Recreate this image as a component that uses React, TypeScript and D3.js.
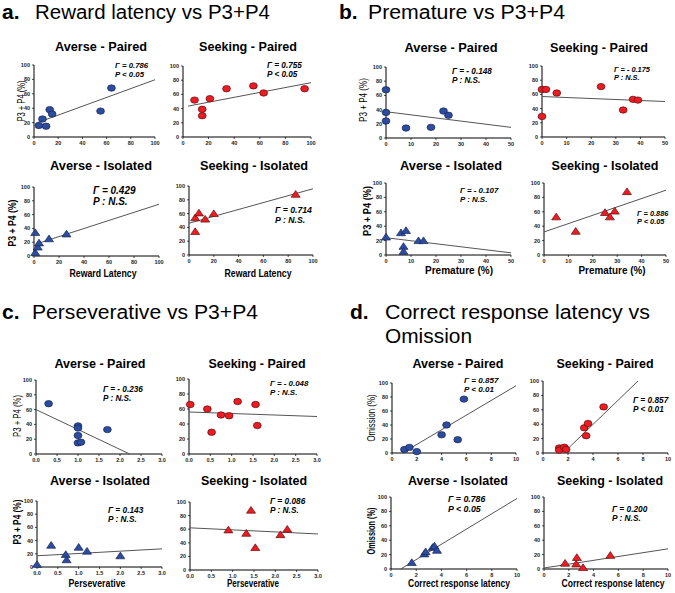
import React from "react";
import * as d3 from "d3";

// ---------- DATA ----------
// a. Reward latency vs P3+P4
const aAversePairedX = [4, 7, 10, 13, 15, 55, 64];
const aAversePairedY = [16, 25, 15, 38, 32, 36, 68];
const aAversePairedFit = [3, 20, 100, 79.5];
const aSeekingPairedX = [9, 15, 15, 21, 34, 55, 63, 95];
const aSeekingPairedY = [52, 39, 30, 54, 68, 72, 62, 68];
const aSeekingPairedFit = [4, 43.5, 100, 76.5];
const aAverseIsolatedX = [1, 1, 3, 4, 12, 26];
const aAverseIsolatedY = [34, 5, 13, 19, 25, 32];
const aAverseIsolatedFit = [2, 17.6, 100, 75];
const aSeekingIsolatedX = [5, 5, 8, 13, 20, 86];
const aSeekingIsolatedY = [34, 54, 61, 52, 60, 88];
const aSeekingIsolatedFit = [0, 46, 100, 96];

// b. Premature vs P3+P4
const bAversePairedX = [0, 0, 0, 8, 18, 23, 25];
const bAversePairedY = [68, 36, 24, 14, 15, 38, 32];
const bAversePairedFit = [0, 37, 50, 15];
const bSeekingPairedX = [0, 0, 1.6, 6, 24, 33, 37, 39];
const bSeekingPairedY = [67, 29, 67, 62, 71, 38, 53, 52];
const bSeekingPairedFit = [0, 57, 50, 50];
const bAverseIsolatedX = [0, 6, 8, 7, 7, 13, 15];
const bAverseIsolatedY = [25, 31, 34, 12, 5, 20, 20];
const bAverseIsolatedFit = [0, 24, 50, 3];
const bSeekingIsolatedX = [5, 13, 25, 27, 29, 34];
const bSeekingIsolatedY = [53, 33, 59, 53, 61, 88];
const bSeekingIsolatedFit = [0, 32, 50, 90];

// c. Perseverative vs P3+P4
const cAversePairedX = [0.3, 1.0, 1.0, 1.0, 1.0, 1.07, 1.7];
const cAversePairedY = [68, 38, 35, 25, 15, 16, 33];
const cAversePairedFit = [0, 60, 2.23, 0];
const cSeekingPairedX = [0.03, 0.43, 0.53, 0.75, 0.94, 1.14, 1.56, 1.6];
const cSeekingPairedY = [66, 60, 29, 52, 51, 70, 66, 38];
const cSeekingPairedFit = [0, 56, 3, 50];
const cAverseIsolatedX = [0, 0.34, 0.69, 0.71, 1.0, 1.2, 2.0];
const cAverseIsolatedY = [4, 33, 19, 11, 30, 24, 17];
const cAverseIsolatedFit = [0, 17, 3, 27.5];
const cSeekingIsolatedX = [0.9, 1.32, 1.43, 1.53, 2.12, 2.28];
const cSeekingIsolatedY = [59, 54, 88, 33, 52, 60];
const cSeekingIsolatedFit = [0, 62, 3, 53];

// d. Correct response latency vs Omission
const dAversePairedX = [1.0, 1.4, 2.0, 4.0, 4.4, 5.3, 5.8];
const dAversePairedY = [5, 8, 2, 26, 40, 19, 77];
const dAversePairedFit = [0.83, 0, 10, 96];
const dSeekingPairedX = [1.3, 1.3, 1.7, 1.85, 3.3, 3.6, 3.45, 4.85];
const dSeekingPairedY = [7, 4, 8, 5, 35, 41, 24, 64];
const dSeekingPairedFit = [1.63, 0, 7.6, 100];
const dAverseIsolatedX = [1.65, 2.65, 2.75, 3.3, 3.45, 3.65];
const dAverseIsolatedY = [9, 21, 24, 30, 32, 26];
const dAverseIsolatedFit = [0.77, 0, 10, 98];
const dSeekingIsolatedX = [1.7, 2.65, 2.6, 3.15, 5.35];
const dSeekingIsolatedY = [8, 16, 7, 2, 19];
const dSeekingIsolatedFit = [0, 1.4, 10, 28];

// statistics text
const gammaValues = [
  "0.786", "0.755", "0.429", "0.714",
  "- 0.148", "- 0.175", "- 0.107", "0.886",
  "- 0.236", "- 0.048", "0.143", "0.086",
  "0.857", "0.857", "0.786", "0.200",
];
const pValues = [
  "P < 0.05", "P < 0.05", "P : N.S.", "P : N.S.",
  "P : N.S.", "P : N.S.", "P : N.S.", "P < 0.05",
  "P : N.S.", "P : N.S.", "P : N.S.", "P : N.S.",
  "P < 0.01", "P < 0.01", "P < 0.05", "P : N.S.",
];
const subTitles = ["Averse - Paired", "Seeking - Paired", "Averse - Isolated", "Seeking - Isolated"];
const sectionLetters = ["a.", "b.", "c.", "d."];
const sectionTitles = ["Reward latency vs P3+P4", "Premature vs P3+P4", "Perseverative vs P3+P4", "Correct response latency vs"];
const sectionTitle2 = "Omission";
const xLabels = ["Reward Latency", "Premature (%)", "Perseverative", "Correct response latency"];
const yLabels = ["P3 + P4 (%)", "P3 + P4 (%)", "P3 + P4 (%)", "Omission (%)"];
const xDomains = [[0, 100], [0, 50], [0, 3], [0, 10]];
const xTickValues = [
  [0, 20, 40, 60, 80, 100],
  [0, 10, 20, 30, 40, 50],
  [0, 0.5, 1, 1.5, 2, 2.5, 3],
  [0, 2, 4, 6, 8, 10],
];
const yTickValues = [0, 20, 40, 60, 80, 100];

const seriesX = [
  aAversePairedX, aSeekingPairedX, aAverseIsolatedX, aSeekingIsolatedX,
  bAversePairedX, bSeekingPairedX, bAverseIsolatedX, bSeekingIsolatedX,
  cAversePairedX, cSeekingPairedX, cAverseIsolatedX, cSeekingIsolatedX,
  dAversePairedX, dSeekingPairedX, dAverseIsolatedX, dSeekingIsolatedX,
];
const seriesY = [
  aAversePairedY, aSeekingPairedY, aAverseIsolatedY, aSeekingIsolatedY,
  bAversePairedY, bSeekingPairedY, bAverseIsolatedY, bSeekingIsolatedY,
  cAversePairedY, cSeekingPairedY, cAverseIsolatedY, cSeekingIsolatedY,
  dAversePairedY, dSeekingPairedY, dAverseIsolatedY, dSeekingIsolatedY,
];
const seriesFit = [
  aAversePairedFit, aSeekingPairedFit, aAverseIsolatedFit, aSeekingIsolatedFit,
  bAversePairedFit, bSeekingPairedFit, bAverseIsolatedFit, bSeekingIsolatedFit,
  cAversePairedFit, cSeekingPairedFit, cAverseIsolatedFit, cSeekingIsolatedFit,
  dAversePairedFit, dSeekingPairedFit, dAverseIsolatedFit, dSeekingIsolatedFit,
];

// ---------- LAYOUT ----------
// plot boxes: [xLeft, xRight, yTop(100), yBottom(0)]
const boxes = [
  [34, 155, 65, 137], [183, 311, 66, 137], [34, 159, 187, 256], [189, 313, 186, 255],
  [386, 511, 67, 138], [542, 665, 66, 137], [386, 511, 183, 255], [544, 666, 183, 255],
  [36, 162, 380, 454], [189, 317, 379, 454], [37, 162, 501, 567], [190, 318, 502, 570],
  [392, 516, 383, 453], [543, 668, 381, 453], [391, 517, 497, 569], [544, 668, 497, 569],
];
// subplot title: [centerX, baseline, length]
const titlePos = [
  [101, 51, 92], [248, 51, 98], [101, 170, 102], [254, 170, 108],
  [451, 52, 93], [599, 52, 98], [451, 170, 102], [605, 170, 107],
  [100, 368, 91], [257, 368, 97], [100, 485, 100], [254, 485, 106],
  [458, 368, 91], [605, 368, 97], [458, 485, 100], [610, 485, 106],
];
// stats annotation: [x, baseline, fontSize]
const annotPos = [
  [115, 68, 7.8], [267, 68, 8.2], [93, 194, 10], [275, 213, 8.7],
  [452, 74, 8.2], [614, 72, 7.4], [460, 193, 7.9], [637, 216, 7.4],
  [103, 392, 8.2], [270, 386, 7.9], [108, 513, 8.3], [270, 504, 8.3],
  [464, 383, 8.1], [633, 403, 8.3], [448, 502, 8.8], [612, 512, 8.3],
];
// x label per panel (only bottom rows): [centerX, baseline, length]
const xLabelPos: Record<number, number[]> = {
  2: [103, 277, 67], 3: [258, 277, 67],
  6: [459, 274, 68], 7: [612, 274, 67],
  10: [97, 587, 57], 11: [253, 587, 52],
  14: [459, 587, 102], 15: [613, 587, 103],
};
// y label per panel (left column): [centerX, centerY, length]
const yLabelPos: Record<number, number[]> = {
  0: [21, 101, 41], 2: [12, 223, 47],
  4: [363, 100, 44], 6: [367, 211, 50],
  8: [17, 416, 42], 10: [17, 522, 45],
  12: [371, 418, 47], 14: [371, 531, 47],
};
// section title positions: [letterX, textX, baseline, textLength]
const sectionPos = [
  [2, 35, 19, 235],
  [339, 368, 19, 197],
  [2, 32, 319, 226],
  [350, 385, 319, 265],
];

const FONT = "'Liberation Sans', Arial, Helvetica, sans-serif";
const BLUE = "#2d4c9e";
const BLUE_STROKE = "#16275a";
const RED = "#ee1b22";
const RED_STROKE = "#5c0d0d";
const NARROW = 0.86;

function Panel({ i }: { i: number }) {
  const sec = Math.floor(i / 4);
  const sub = i % 4;
  const [x0, x1, yTop, yBot] = boxes[i];
  const xs = d3.scaleLinear().domain(xDomains[sec]).range([x0, x1]);
  const ys = d3.scaleLinear().domain([0, 100]).range([yBot, yTop]);
  const seeking = sub === 1 || sub === 3;
  const isolated = sub >= 2;
  const fill = seeking ? RED : BLUE;
  const stroke = seeking ? RED_STROKE : BLUE_STROKE;
  const fit = seriesFit[i];
  const fmt = sec === 2 ? d3.format(".1f") : d3.format("d");
  const [tx, tb, tl] = titlePos[i];
  const [ax, ab, as] = annotPos[i];
  const xl = xLabelPos[i];
  const yl = yLabelPos[i];
  const tri = "M0,-3.7L4.5,3L-4.5,3Z";
  return (
    <g>
      <text x={tx} y={tb} textAnchor="middle" fontFamily={FONT} fontWeight="bold" fontSize={12.5}
        textLength={tl} lengthAdjust="spacingAndGlyphs">{subTitles[sub]}</text>
      {/* axes */}
      <line x1={x0} x2={x0} y1={yTop} y2={yBot} stroke="#000" strokeWidth={1} />
      <line x1={x0} x2={x1} y1={yBot} y2={yBot} stroke="#000" strokeWidth={1} />
      {yTickValues.map((v) => (
        <g key={"y" + v}>
          <line x1={x0 - 2} x2={x0} y1={ys(v)} y2={ys(v)} stroke="#000" strokeWidth={0.7} />
          <text x={x0 - 4} y={ys(v) + 2} textAnchor="end" fontFamily={FONT} fontWeight="bold" fontSize={5.5} fill="#222">{v}</text>
        </g>
      ))}
      {xTickValues[sec].map((v) => (
        <g key={"x" + v}>
          <line x1={xs(v)} x2={xs(v)} y1={yBot} y2={yBot + 2} stroke="#000" strokeWidth={0.7} />
          <text x={xs(v)} y={yBot + 7.5} textAnchor="middle" fontFamily={FONT} fontWeight="bold" fontSize={5.5} fill="#222">{fmt(v)}</text>
        </g>
      ))}
      {/* fit line */}
      <line x1={xs(fit[0])} y1={ys(fit[1])} x2={xs(fit[2])} y2={ys(fit[3])} stroke="#555" strokeWidth={1} />
      {/* points */}
      {seriesX[i].map((xv, k) => {
        const px = xs(xv);
        const py = ys(seriesY[i][k]);
        return isolated ? (
          <path key={k} d={tri} transform={`translate(${px},${py})`} fill={fill} stroke={stroke} strokeWidth={0.7} />
        ) : (
          <ellipse key={k} cx={px} cy={py} rx={3.9} ry={3.2} fill={fill} stroke={stroke} strokeWidth={0.7} />
        );
      })}
      {/* stats */}
      <text x={ax} y={ab} fontFamily={FONT} fontWeight="bold" fontStyle="italic" fontSize={as}>
        {"Γ = " + gammaValues[i]}
      </text>
      <text x={ax} y={ab + as + 0.8} fontFamily={FONT} fontWeight="bold" fontStyle="italic" fontSize={as}>
        {pValues[i]}
      </text>
      {xl && (
        <text transform={`translate(${xl[0]},${xl[1]}) scale(${NARROW},1)`} textAnchor="middle" fontFamily={FONT}
          fontWeight="bold" fontSize={10} textLength={xl[2] / NARROW} lengthAdjust="spacingAndGlyphs">{xLabels[sec]}</text>
      )}
      {yl && (
        <text transform={`translate(${yl[0] + 4},${yl[1]}) rotate(-90)`} textAnchor="middle" fontFamily={FONT}
          fontSize={10} textLength={yl[2]} lengthAdjust="spacingAndGlyphs" fontWeight={sub >= 2 ? "bold" : "normal"}>{yLabels[sec]}</text>
      )}
    </g>
  );
}

export default function App() {
  return (
    <svg width={675} height={593} style={{ position: "absolute", left: 0, top: 0, background: "#fff" }}>
      <rect width={675} height={593} fill="#fff" />
      {sectionPos.map((p, s) => (
        <g key={s}>
          <text x={p[0]} y={p[2]} fontFamily={FONT} fontWeight="bold" fontSize={21}>{sectionLetters[s]}</text>
          <text x={p[1]} y={p[2]} fontFamily={FONT} fontSize={19.5} textLength={p[3]} lengthAdjust="spacingAndGlyphs">
            {sectionTitles[s]}
          </text>
        </g>
      ))}
      <text x={385} y={343} fontFamily={FONT} fontSize={19.5} textLength={87} lengthAdjust="spacingAndGlyphs">{sectionTitle2}</text>
      {d3.range(16).map((i) => (
        <Panel key={i} i={i} />
      ))}
    </svg>
  );
}
